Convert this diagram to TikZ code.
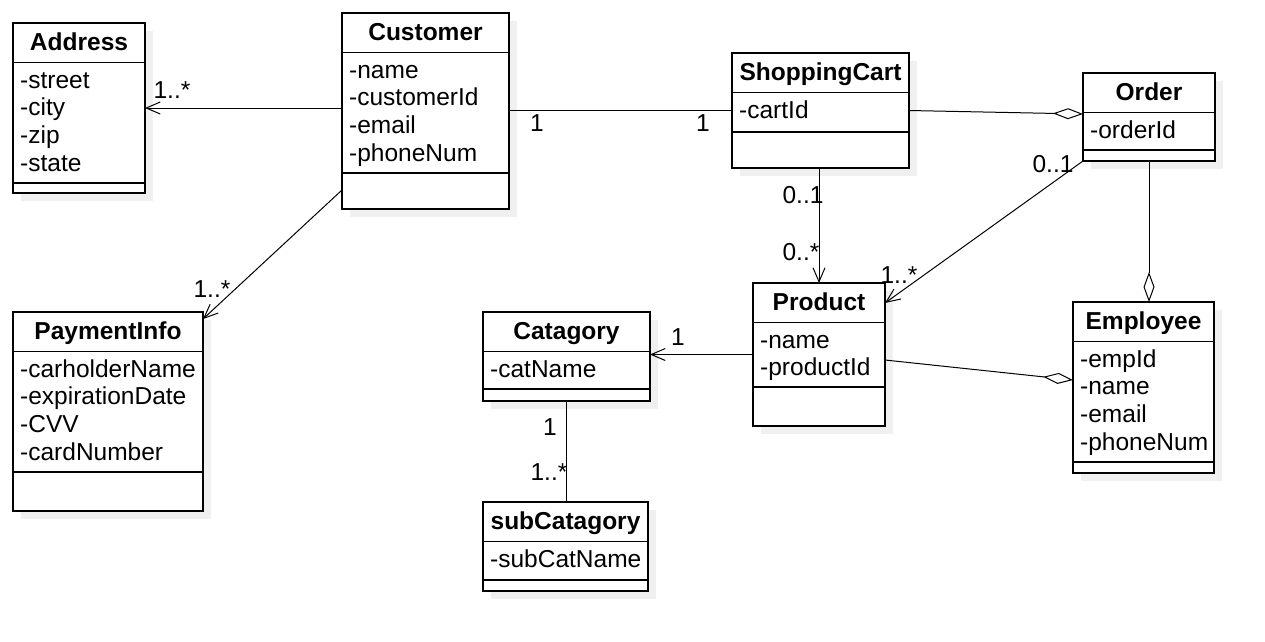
\documentclass[tikz,border=0pt]{standalone}
\usepackage{fontspec}
\setmainfont{Liberation Sans}
\usetikzlibrary{arrows.meta, calc}

\tikzset{
    classbox/.style={draw, line width=1.2, fill=white, inner sep=0, outer sep=0, anchor=north west},
    classshadow/.style={fill=black!6},
    classtitle/.style={anchor=base, inner sep=0, font=\fontsize{24.5}{27.6}\selectfont\bfseries},
    classattr/.style={anchor=base west, inner sep=0},
    mult/.style={inner sep=0},
    assoc/.style={line width=1, -{Straight Barb[length=14pt, width=12pt]}},
    link/.style={line width=1},
    aggr/.style={line width=1, {Diamond[fill=white, length=30pt, width=11pt]}-},
}

% name, corner, width, height, ops line, title, attributes
\newcommand{\umlclass}[7]{%
    \fill[classshadow] ($#2+(8,8)$) rectangle ++(#3,#4);
    \node[classbox, minimum width=#3, minimum height=#4] (#1) at #2 {};
    \node[classtitle] at ($(#1.north)+(0,27)$) {#6};
    \draw[line width=1.2] ($(#1.north west)+(0,39.5)$) -- ($(#1.north east)+(0,39.5)$);
    \draw[line width=1.2] ($(#1.north west)+(0,#5)$) -- ($(#1.north east)+(0,#5)$);
    \foreach \attr [count=\idx] in {#7}
        \node[classattr] at ($(#1.north west)+(7,37.7+27.6*\idx)$) {\attr};
}

\begin{document}
\begin{tikzpicture}[x=1pt, y=-1pt, font=\fontsize{24.5}{27.6}\selectfont]
    \fill[white] (0,0) rectangle (1265,641);
    \useasboundingbox (0,0) rectangle (1265,641);

    % classes
    \umlclass{addr}{(13,23)}{132}{170}{160}{Address}{-street,-city,-zip,-state}
    \umlclass{cust}{(342,13)}{167}{196}{160}{Customer}{-name,-customerId,-email,-phoneNum}
    \umlclass{cart}{(732,53)}{177}{115}{79}{ShoppingCart}{-cartId}
    \umlclass{order}{(1083,73)}{132}{88}{77}{Order}{-orderId}
    \umlclass{prod}{(753,283)}{132}{143}{104}{Product}{-name,-productId}
    \umlclass{emp}{(1073,302)}{141}{171}{160}{Employee}{-empId,-name,-email,-phoneNum}
    \umlclass{cat}{(483,312)}{167}{89}{77}{Catagory}{-catName}
    \umlclass{subcat}{(483,502)}{165}{89}{78}{subCatagory}{-subCatName}
    \umlclass{pay}{(13,312)}{190}{199}{160}{PaymentInfo}{-carholderName,-expirationDate,-CVV,-cardNumber}

    % connectors
    \draw[assoc] (addr.east -| cust.west) -- (addr.east);
    \draw[link] (cart.west -| cust.east) -- (cart.west);
    \draw[aggr] ($(order.north west)+(0,41)$) -- (cart.east);
    \draw[assoc] (prod.north |- cart.south) -- (prod.north);
    \draw[assoc] (order.south west) -- ($(prod.north east)+(0,20)$);
    \draw[aggr] (emp.north -| order.south) -- (order.south);
    \draw[aggr] ($(emp.north west)+(0,78)$) -- ($(prod.north east)+(0,77)$);
    \draw[assoc] (prod.west) -- (prod.west -| cat.east);
    \draw[link] (cat.south) -- (cat.south |- subcat.north);
    \draw[assoc] ($(cust.south west)+(0,-19)$) -- ($(pay.north east)+(0,7)$);

    % multiplicities
    \node[mult] (addrmult) at (172,90) {1..*};
    \node[mult] (custcartmult) at (537,123) {1};
    \node[mult] (cartcustmult) at (703,123) {1};
    \node[mult] (cartprodmult) at (803,195) {0..1};
    \node[mult] (prodcartmult) at (801,252) {0..*};
    \node[mult] (prodordermult) at (899,275) {1..*};
    \node[mult] (orderprodmult) at (1053,164) {0..1};
    \node[mult] (paymult) at (212,289) {1..*};
    \node[mult] (catmult) at (678,337) {1};
    \node[mult] (catsubmult) at (550,427) {1};
    \node[mult] (subcatmult) at (549,472) {1..*};
\end{tikzpicture}
\end{document}
